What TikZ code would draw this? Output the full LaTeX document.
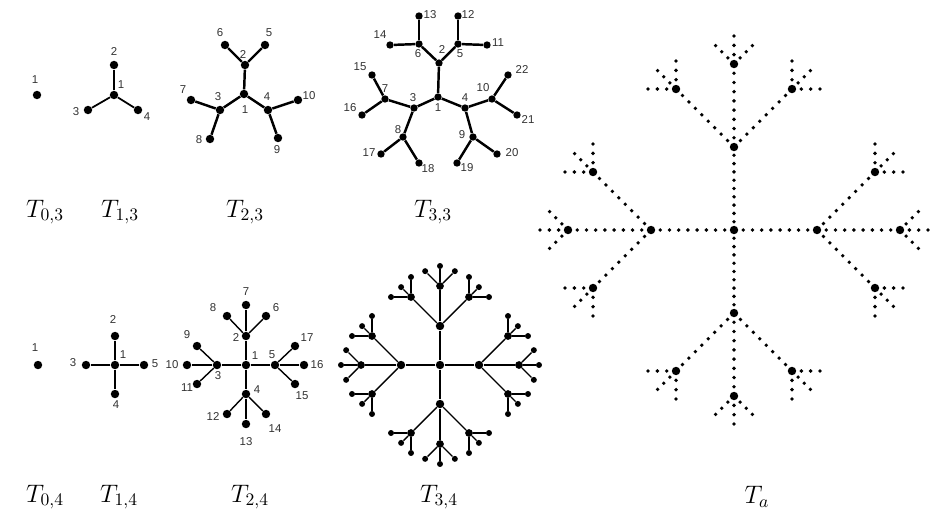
\documentclass[tikz,border=0pt]{standalone}
\usepackage{fontspec}
\setsansfont{Liberation Sans}
\usetikzlibrary{calc}
% dotted edge: small dots between two named nodes, #3 steps
\newcommand{\dotedge}[3]{%
  \pgfmathtruncatemacro\dlast{#3-1}%
  \foreach \kk in {1,...,\dlast} {\fill ($(#1)!\kk/#3!(#2)$) circle (1.1pt);}}
\begin{document}
\begin{tikzpicture}[x=0.02cm,y=-0.02cm,
  dot/.style={circle,fill=black,inner sep=0pt,minimum size=4.8pt},
  leaf/.style={dot,minimum size=4.2pt},
  sdot/.style={dot,minimum size=2.2pt},
  num/.style={font=\sffamily\fontsize{6.5}{7}\selectfont,text=black!80,inner sep=0pt},
  tname/.style={font=\fontsize{14}{16}\selectfont,inner sep=0pt}]
\fill[white] (0,0) rectangle (933,525);
% T_{0,3}
\node[dot] (a) at (37,95) {};
\node[num] (la) at (35,80) {1};
% T_{1,3}
\foreach \n/\x/\y in {1/114/95,2/114/65,3/88/110,4/138/110} \node[dot] (b\n) at (\x,\y) {};
\foreach \n in {2,3,4} \draw[line width=1pt] (b1) -- (b\n);
\foreach \n/\x/\y in {1/121/85,2/114/52,3/76/112,4/147/117} \node[num] (lb\n) at (\x,\y) {\n};
% T_{2,3}
\foreach \n/\x/\y in {1/244/94,2/245/65,3/220/110,4/268/110,5/265/45,6/225/45,7/191/100,8/210/139,9/278/138,10/298/100}
  \node[dot] (c\n) at (\x,\y) {};
\foreach \p/\q in {1/2,1/3,1/4,2/5,2/6,3/7,3/8,4/9,4/10} \draw[line width=1.4pt] (c\p) -- (c\q);
\foreach \n/\x/\y in {1/245/110,2/243/55,3/218/97,4/267/97,5/269/33,6/220/33,7/183/90,8/199/140,9/277/150,10/309/96}
  \node[num] (lc\n) at (\x,\y) {\n};
% T_{3,3}
\foreach \n/\x/\y in {1/438/97,2/439/63,3/414/108,4/465/108,5/458/44,6/419/44,7/385/99,8/403/137,9/473/137,10/492/99,
  11/487/45,12/458/16,13/419/16,14/390/45,15/372/75,16/362/115,17/381/154,18/419/163,19/457/163,20/497/154,21/517/115,22/508/75}
  \node[leaf] (d\n) at (\x,\y) {};
\foreach \p/\q in {1/2,1/3,1/4,2/5,2/6,3/7,3/8,4/9,4/10,5/11,5/12,6/13,6/14,7/15,7/16,8/17,8/18,9/19,9/20,10/21,10/22}
  \draw[line width=1.4pt] (d\p) -- (d\q);
\foreach \n/\x/\y in {1/438/108,2/442/50,3/413/98,4/465/98,5/460/54,6/418/54,7/385/89,8/398/130,9/462/135,10/483/88,
  11/498/43,12/468/15,13/430/15,14/380/35,15/360/67,16/350/108,17/369/153,18/428/169,19/467/168,20/512/153,21/528/120,22/522/70}
  \node[num] (ld\n) at (\x,\y) {\n};
% T_{0,4}
\node[dot] (h) at (38,365) {};
\node[num] (lh) at (35,348) {1};
% T_{1,4}
\foreach \n/\x/\y in {1/115/365,2/115/336,3/86/365,4/115/394,5/144/365} \node[dot] (f\n) at (\x,\y) {};
\foreach \n in {2,...,5} \draw[line width=1pt] (f1) -- (f\n);
\foreach \n/\x/\y in {1/123/355,2/113/320,3/73/363,4/116/405,5/155/364} \node[num] (lf\n) at (\x,\y) {\n};
% T_{2,4}
\foreach \n/\x/\y in {1/246/365,2/246/336,3/217/365,4/246/394,5/275/365,6/266/316,7/246/305,8/227/316,9/197/346,
  10/187/365,11/197/384,12/227/414,13/246/424,14/266/414,15/295/384,16/304/365,17/295/346}
  \node[dot] (g\n) at (\x,\y) {};
\foreach \p/\q in {1/2,1/3,1/4,1/5,2/6,2/7,2/8,3/9,3/10,3/11,4/12,4/13,4/14,5/15,5/16,5/17}
  \draw[line width=0.8pt] (g\p) -- (g\q);
\foreach \n/\x/\y in {1/255/356,2/236/338,3/218/376,4/257/390,5/272/355,6/276/308,7/246/292,8/213/308,9/187/335,
  10/172/365,11/187/388,12/213/417,13/246/442,14/275/429,15/302/396,16/317/365,17/307/338}
  \node[num] (lg\n) at (\x,\y) {\n};
% T_{3,4}
\node[dot] (e) at (440,365) {};
\foreach \dirA in {0,90,180,270} {
  \node[dot] (e\dirA) at ($(e)+(\dirA:39)$) {};
  \draw[line width=0.8pt] (e) -- (e\dirA);
  \foreach \ib/\db/\lb in {1/-45/41,2/0/40,3/45/41} {
    \pgfmathsetmacro\ang{\dirA+\db}
    \node[dot,minimum size=4.4pt] (e\dirA-\ib) at ($(e\dirA)+(\ang:\lb)$) {};
    \draw[line width=0.8pt] (e\dirA) -- (e\dirA-\ib);
    \foreach \ic/\dc in {1/-45,2/0,3/45} {
      \pgfmathsetmacro\dir{\ang+\dc}
      \pgfmathsetmacro\len{ifthenelse(\db==0,ifthenelse(\dc==0,20,21),ifthenelse(\dc==0,14,20))}
      \node[leaf,minimum size=3.4pt] (e\dirA-\ib-\ic) at ($(e\dirA-\ib)+(\dir:\len)$) {};
      \draw[line width=0.8pt] (e\dirA-\ib) -- (e\dirA-\ib-\ic);
    }
  }
}
% T_a
\node[dot] (s) at (734,230) {};
\foreach \dirA/\nc in {0/9,90/10,180/9,270/10} {
  \node[dot] (s\dirA) at ($(s)+(\dirA:83)$) {};
  \dotedge{s}{s\dirA}{\nc}
  \foreach \ib/\db/\lb in {1/-45/82,2/0/83,3/45/82} {
    \pgfmathsetmacro\ang{\dirA+\db}
    \node[dot] (s\dirA-\ib) at ($(s\dirA)+(\ang:\lb)$) {};
    \dotedge{s\dirA}{s\dirA-\ib}{9}
    \foreach \ic/\dc in {1/-45,2/0,3/45} {
      \pgfmathsetmacro\dir{\ang+\dc}
      \pgfmathsetmacro\len{ifthenelse(mod(\dir+360,90)==0,28,26)}
      \node[sdot] (s\dirA-\ib-\ic) at ($(s\dirA-\ib)+(\dir:\len)$) {};
      \dotedge{s\dirA-\ib}{s\dirA-\ib-\ic}{3}
    }
  }
}
% names
\node[tname] (n03) at (45,212) {$T_{0,3}$};
\node[tname] (n13) at (120,212) {$T_{1,3}$};
\node[tname] (n23) at (245,212) {$T_{2,3}$};
\node[tname] (n33) at (433,212) {$T_{3,3}$};
\node[tname] (n04) at (45,497) {$T_{0,4}$};
\node[tname] (n14) at (119,497) {$T_{1,4}$};
\node[tname] (n24) at (250,497) {$T_{2,4}$};
\node[tname] (n34) at (439,497) {$T_{3,4}$};
\node[tname] (na) at (757,497) {$T_a$};
\end{tikzpicture}
\end{document}
